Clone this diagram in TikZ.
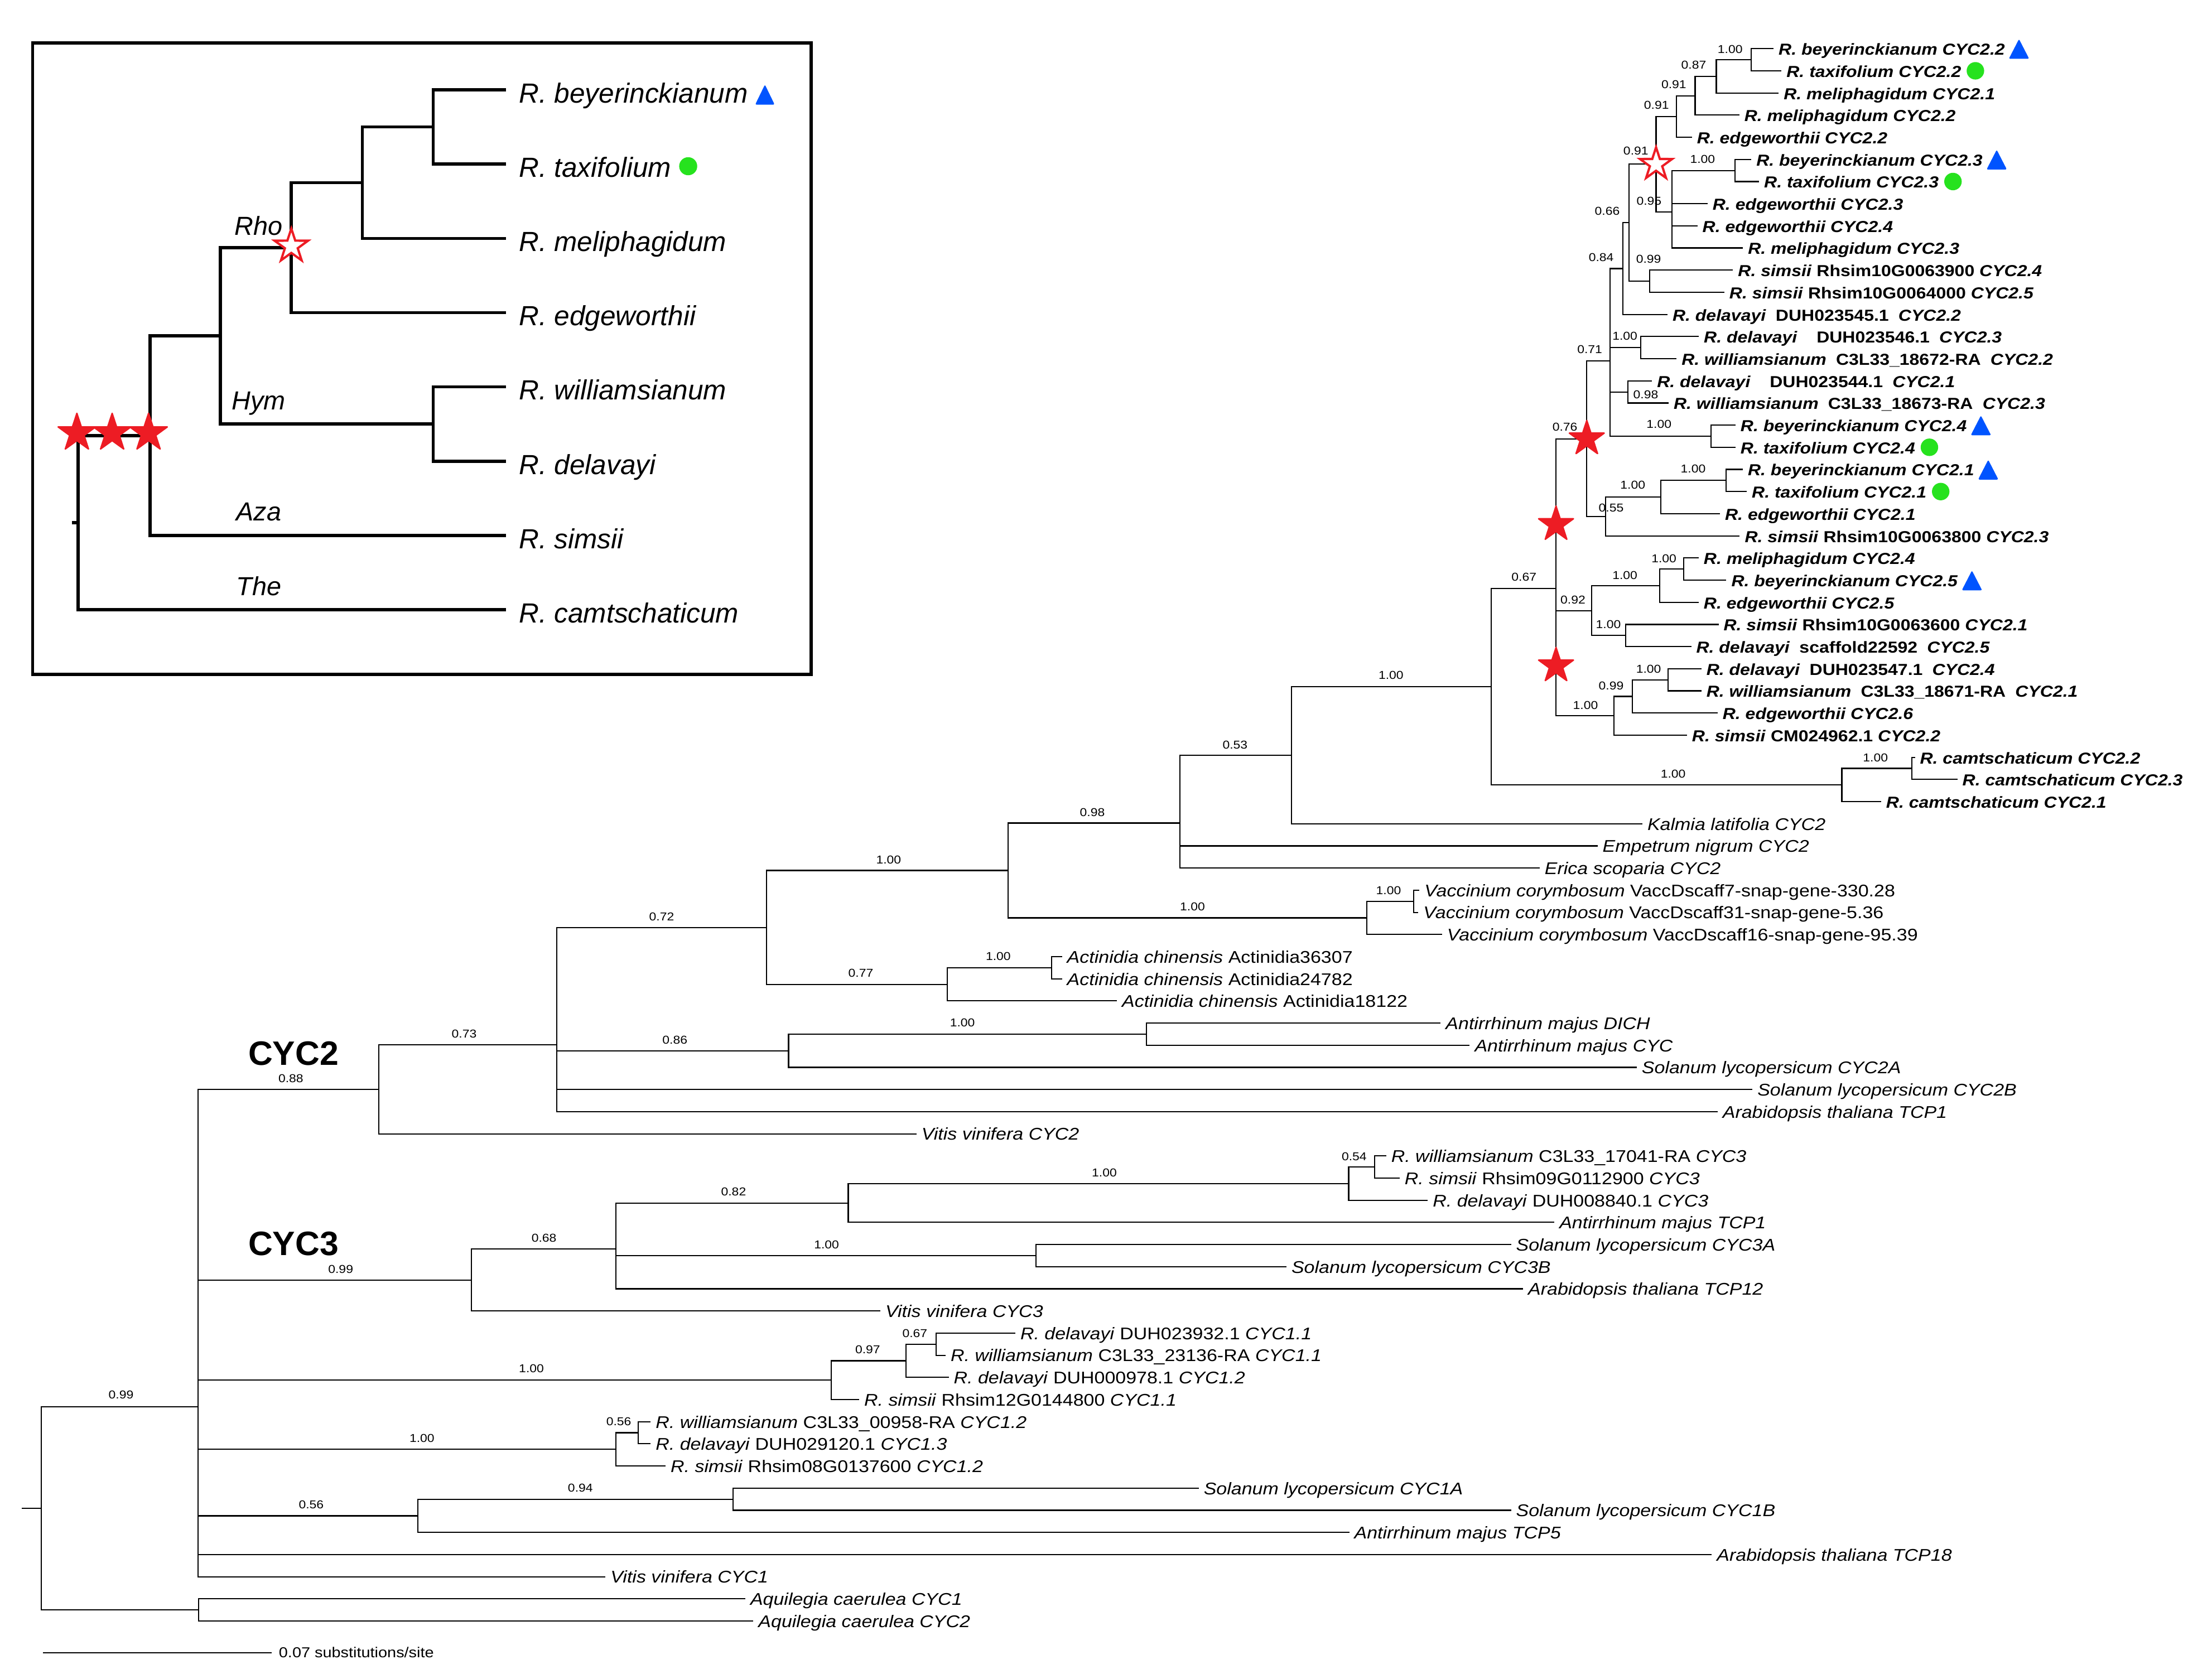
\documentclass[tikz,border=0pt]{standalone}
\usepackage{fontspec}
\setmainfont{Liberation Sans}
\newfontfamily\treefont[FakeStretch=1.12]{Liberation Sans}
\usetikzlibrary{calc}
\definecolor{dupred}{RGB}{237,28,36}
\definecolor{triblue}{RGB}{0,84,255}
\definecolor{dotgreen}{RGB}{38,226,30}
\newcommand{\gap}{\hspace{0.6em}}
\tikzset{
  branch/.style={line width=0.85pt, line cap=rect},
  ibranch/.style={line width=2.2pt, line cap=rect},
  tipb/.style={anchor=base west, inner sep=0pt, xshift=3.8pt, yshift=-4.5pt, font=\treefont\fontsize{11.3}{13}\selectfont\bfseries},
  tipn/.style={anchor=base west, inner sep=0pt, xshift=3.8pt, yshift=-4.5pt, font=\treefont\fontsize{12}{14}\selectfont},
  supp/.style={inner sep=0pt, font=\treefont\fontsize{8.1}{9}\selectfont},
  itip/.style={anchor=base west, inner sep=0pt, xshift=10pt, yshift=-9.2pt, font=\fontsize{19.6}{22}\selectfont\itshape},
  iclade/.style={anchor=base, inner sep=0pt, font=\fontsize{18.5}{21}\selectfont\itshape},
  cyclab/.style={inner sep=0pt, font=\fontsize{24}{28}\selectfont\bfseries},
  redstar/.pic={\fill[dupred, draw=dupred, line width=1pt, line join=round]
    (270:13) -- (306:5) -- (342:13) -- (18:5) -- (54:13) -- (90:5) -- (126:13) -- (162:5) -- (198:13) -- (234:5) -- cycle;},
  openstar/.pic={\filldraw[fill=white, draw=dupred, line width=1.6pt]
    (270:12) -- (306:4.6) -- (342:12) -- (18:4.6) -- (54:12) -- (90:4.6) -- (126:12) -- (162:4.6) -- (198:12) -- (234:4.6) -- cycle;},
  blutri/.pic={\fill[triblue, rounded corners=1pt] (2.6,7.2) -- (17,7.2) -- (9.8,-6.8) -- cycle;},
  grndot/.pic={\fill[dotgreen] (9.9,0) circle (6.2);}
}

\begin{document}
\begin{tikzpicture}[x=1pt, y=-1pt]
  \useasboundingbox (0,0) rectangle (1568,1190);

  %inset
  \draw[ibranch] (23.1,30.4) rectangle (575,478.1);
  \foreach \k/\lab in {1/R. beyerinckianum, 2/R. taxifolium, 3/R. meliphagidum, 4/R. edgeworthii,
    5/R. williamsianum, 6/R. delavayi, 7/R. simsii, 8/R. camtschaticum} {
    \coordinate (it\k) at (357.7, {63.7+52.65*(\k-1)});
    \node[itip] (il\k) at (it\k) {\lab};
  }
  \foreach \n/\x/\y in {ibt/307/90.03, ibtm/256.9/129.51, irho/206.5/175.58, ihym/307/300.63,
    irh/156.1/238.1, iaza/106.4/308.85, iroot/55.3/370.55, istub/52.3/370.55}
    \coordinate (\n) at (\x,\y);
  \foreach \p/\c in {ibt/it1, ibt/it2, ibtm/ibt, ibtm/it3, irho/ibtm, irho/it4, ihym/it5, ihym/it6,
    irh/irho, irh/ihym, iaza/irh, iaza/it7, iroot/iaza, iroot/it8}
    \draw[ibranch] (\p) |- (\c);
  \draw[ibranch] (istub) -- (iroot);
  \node[iclade] (rho) at (183.4,166.5) {Rho};
  \node[iclade] (hym) at (183.4,290.6) {Hym};
  \node[iclade] (aza) at (183.4,369.2) {Aza};
  \node[iclade] (the) at (183.4,422.2) {The};
  \foreach \x in {54.5, 79.5, 105.3}
    \pic[scale=1.077] at (\x,307) {redstar};
  \pic[scale=1.04] at (206.5,174.5) {openstar};
  \fill[triblue, rounded corners=1pt] ($(il1.east |- it1)+(4.9,10.5)$) -- ++(13.8,0) -- ++(-6.9,-14.2) -- cycle;
  \fill[dotgreen] ($(il2.east |- it2)+(11.9,1.5)$) circle (6.4);

  %tips, bold clade
  \foreach \i/\x/\lab in {
    0/1256.8/{\textit{R. beyerinckianum CYC2.2}},
    1/1262.4/{\textit{R. taxifolium CYC2.2}},
    2/1260.4/{\textit{R. meliphagidum CYC2.1}},
    3/1232.5/{\textit{R. meliphagidum CYC2.2}},
    4/1198.9/{\textit{R. edgeworthii CYC2.2}},
    5/1241/{\textit{R. beyerinckianum CYC2.3}},
    6/1246.5/{\textit{R. taxifolium CYC2.3}},
    7/1210/{\textit{R. edgeworthii CYC2.3}},
    8/1202.8/{\textit{R. edgeworthii CYC2.4}},
    9/1235.1/{\textit{R. meliphagidum CYC2.3}},
    10/1228/{\textit{R. simsii} Rhsim10G0063900 \textit{CYC2.4}},
    11/1221.9/{\textit{R. simsii} Rhsim10G0064000 \textit{CYC2.5}},
    12/1181.6/{\textit{R. delavayi}\gap DUH023545.1\gap\textit{CYC2.2}},
    13/1203.8/{\textit{R. delavayi}\gap\gap DUH023546.1\gap\textit{CYC2.3}},
    14/1188/{\textit{R. williamsianum}\gap C3L33\_18672-RA\gap\textit{CYC2.2}},
    15/1170.6/{\textit{R. delavayi}\gap\gap DUH023544.1\gap\textit{CYC2.1}},
    16/1182.4/{\textit{R. williamsianum}\gap C3L33\_18673-RA\gap\textit{CYC2.3}},
    17/1229.8/{\textit{R. beyerinckianum CYC2.4}},
    18/1229.8/{\textit{R. taxifolium CYC2.4}},
    19/1235/{\textit{R. beyerinckianum CYC2.1}},
    20/1237.8/{\textit{R. taxifolium CYC2.1}},
    21/1218.8/{\textit{R. edgeworthii CYC2.1}},
    22/1232.8/{\textit{R. simsii} Rhsim10G0063800 \textit{CYC2.3}},
    23/1203.7/{\textit{R. meliphagidum CYC2.4}},
    24/1223.3/{\textit{R. beyerinckianum CYC2.5}},
    25/1203.7/{\textit{R. edgeworthii CYC2.5}},
    26/1217.8/{\textit{R. simsii} Rhsim10G0063600 \textit{CYC2.1}},
    27/1198.4/{\textit{R. delavayi}\gap scaffold22592\gap\textit{CYC2.5}},
    28/1205.6/{\textit{R. delavayi}\gap DUH023547.1\gap\textit{CYC2.4}},
    29/1205.6/{\textit{R. williamsianum}\gap C3L33\_18671-RA\gap\textit{CYC2.1}},
    30/1217.1/{\textit{R. edgeworthii CYC2.6}},
    31/1195.4/{\textit{R. simsii} CM024962.1 \textit{CYC2.2}},
    32/1357/{\textit{R. camtschaticum CYC2.2}},
    33/1387.1/{\textit{R. camtschaticum CYC2.3}},
    34/1333/{\textit{R. camtschaticum CYC2.1}}} {
    \coordinate (t\i) at (\x,{34.5+15.7*\i});
    \node[tipb] (l\i) at (t\i) {\lab};
  }
  %tips, the rest
  \foreach \i/\x/\lab in {
    35/1163.8/{\textit{Kalmia latifolia CYC2}},
    36/1132/{\textit{Empetrum nigrum CYC2}},
    37/1091/{\textit{Erica scoparia CYC2}},
    38/1005.7/{\textit{Vaccinium corymbosum} VaccDscaff7-snap-gene-330.28},
    39/1005/{\textit{Vaccinium corymbosum} VaccDscaff31-snap-gene-5.36},
    40/1021.8/{\textit{Vaccinium corymbosum} VaccDscaff16-snap-gene-95.39},
    41/752.4/{\textit{Actinidia chinensis} Actinidia36307},
    42/752.4/{\textit{Actinidia chinensis} Actinidia24782},
    43/791.3/{\textit{Actinidia chinensis} Actinidia18122},
    44/1020.8/{\textit{Antirrhinum majus DICH}},
    45/1041.4/{\textit{Antirrhinum majus CYC}},
    46/1159.8/{\textit{Solanum lycopersicum CYC2A}},
    47/1241.8/{\textit{Solanum lycopersicum CYC2B}},
    48/1217.1/{\textit{Arabidopsis thaliana TCP1}},
    49/649.2/{\textit{Vitis vinifera CYC2}},
    50/982.2/{\textit{R. williamsianum} C3L33\_17041-RA \textit{CYC3}},
    51/991.7/{\textit{R. simsii} Rhsim09G0112900 \textit{CYC3}},
    52/1011.7/{\textit{R. delavayi} DUH008840.1 \textit{CYC3}},
    53/1101.4/{\textit{Antirrhinum majus TCP1}},
    54/1070.7/{\textit{Solanum lycopersicum CYC3A}},
    55/911.5/{\textit{Solanum lycopersicum CYC3B}},
    56/1079.2/{\textit{Arabidopsis thaliana TCP12}},
    57/623.6/{\textit{Vitis vinifera CYC3}},
    58/719.3/{\textit{R. delavayi} DUH023932.1 \textit{CYC1.1}},
    59/669.9/{\textit{R. williamsianum} C3L33\_23136-RA \textit{CYC1.1}},
    60/672.1/{\textit{R. delavayi} DUH000978.1 \textit{CYC1.2}},
    61/608.6/{\textit{R. simsii} Rhsim12G0144800 \textit{CYC1.1}},
    62/460.8/{\textit{R. williamsianum} C3L33\_00958-RA \textit{CYC1.2}},
    63/460.8/{\textit{R. delavayi} DUH029120.1 \textit{CYC1.3}},
    64/471.4/{\textit{R. simsii} Rhsim08G0137600 \textit{CYC1.2}},
    65/849.3/{\textit{Solanum lycopersicum CYC1A}},
    66/1070.7/{\textit{Solanum lycopersicum CYC1B}},
    67/956/{\textit{Antirrhinum majus TCP5}},
    68/1213/{\textit{Arabidopsis thaliana TCP18}},
    69/428.8/{\textit{Vitis vinifera CYC1}},
    70/527.9/{\textit{Aquilegia caerulea CYC1}},
    71/533.6/{\textit{Aquilegia caerulea CYC2}}} {
    \coordinate (t\i) at (\x,{34.5+15.7*\i});
    \node[tipn] (l\i) at (t\i) {\lab};
  }

  %internal nodes
  \foreach \n/\x/\y in {Nbt22/1241.3/42.35, N87/1216.6/54.13, N91a/1201.6/67.86, N91b/1188.4/82.58,
    Nbt23/1229.8/120.85, N95/1185.2/150.29, N91c/1173.9/116.43, N99/1169.3/199.35, N66/1154.8/157.89,
    N84/1150.4/190.4, N100a/1163.2/246.45, N98/1153.9/277.85, Nbt24/1213/309.25, N71/1141.2/255.99,
    Nbt21/1223.6/340.65, N100b/1177.3/352.43, N55/1138/366.16, N76/1124.8/311.08, Nmb/1193.6/403.45,
    N100c/1176.4/415.23, N100d/1152.5/450.55, N92/1128.3/432.89, N100f/1182.5/481.95, N99b/1157.1/493.73,
    N100e/1144.2/507.46, NX/1103/417.14, Nc23/1355.2/544.75, Ncamt/1305.6/556.53, NY/1056.9/486.83,
    N53/915.5/535.42, N98c/836.5/583.51, Nv12/1002.2/638.95, Nvac/968.8/650.73, N100L/714.6/617.12,
    N100m/745.4/686.05, N77/671.6/697.83, N72/543.4/657.48, N100g/812.5/733.15, N86/559/744.93,
    N73/394.8/740.73, N88/268.4/772.26, N54/974.5/827.35, N100k/956/839.13, N82/601.3/852.86,
    N100h/734.3/890.15, N68/436.7/885.57, N99c/334/907.48, N67/663.5/952.95, N97/642.1/964.73,
    N100i/589.3/978.46, N56b/452.3/1015.75, N100j/436.7/1027.53, N94/519.5/1062.85, N56c/296.3/1074.63,
    Nr2/140.5/997.18, Naq/140.8/1141.35, Nroot/29.2/1069.27, rstub/15.9/1069.27}
    \coordinate (\n) at (\x,\y);

  %branches
  \foreach \p/\c in {Nbt22/t0, Nbt22/t1, N87/Nbt22, N87/t2, N91a/N87, N91a/t3, N91b/N91a, N91b/t4,
    Nbt23/t5, Nbt23/t6, N95/Nbt23, N95/t7, N95/t8, N95/t9, N91c/N91b, N91c/N95, N99/t10, N99/t11,
    N66/N91c, N66/N99, N84/N66, N84/t12, N100a/t13, N100a/t14, N98/t15, N98/t16, Nbt24/t17, Nbt24/t18,
    N71/N84, N71/N100a, N71/N98, N71/Nbt24, Nbt21/t19, Nbt21/t20, N100b/Nbt21, N100b/t21, N55/N100b,
    N55/t22, N76/N71, N76/N55, Nmb/t23, Nmb/t24, N100c/Nmb, N100c/t25, N100d/t26, N100d/t27,
    N92/N100c, N92/N100d, N100f/t28, N100f/t29, N99b/N100f, N99b/t30, N100e/N99b, N100e/t31,
    NX/N76, NX/N92, NX/N100e, Nc23/t32, Nc23/t33, Ncamt/Nc23, Ncamt/t34, NY/NX, NY/Ncamt,
    N53/NY, N53/t35, N98c/N53, N98c/t36, N98c/t37, Nv12/t38, Nv12/t39, Nvac/Nv12, Nvac/t40,
    N100L/N98c, N100L/Nvac, N100m/t41, N100m/t42, N77/N100m, N77/t43, N72/N100L, N72/N77,
    N100g/t44, N100g/t45, N86/N100g, N86/t46, N73/N72, N73/N86, N73/t47, N73/t48, N88/N73, N88/t49,
    N54/t50, N54/t51, N100k/N54, N100k/t52, N82/N100k, N82/t53, N100h/t54, N100h/t55,
    N68/N82, N68/N100h, N68/t56, N99c/N68, N99c/t57, N67/t58, N67/t59, N97/N67, N97/t60,
    N100i/N97, N100i/t61, N56b/t62, N56b/t63, N100j/N56b, N100j/t64, N94/t65, N94/t66,
    N56c/N94, N56c/t67, Nr2/N88, Nr2/N99c, Nr2/N100i, Nr2/N100j, Nr2/N56c, Nr2/t68, Nr2/t69,
    Naq/t70, Naq/t71, Nroot/Nr2, Nroot/Naq}
    \draw[branch] (\p) |- (\c);
  \draw[branch] (rstub) -- (Nroot);

  %support values
  \foreach \x/\y/\v [count=\k] in {1226.4/35/1.00, 1200.6/45.9/0.87, 1186.5/60/0.91, 1174.2/74.5/0.91,
    1159.6/106.8/0.91, 1168.9/142.6/0.95, 1206.9/113/1.00, 1139.3/149.6/0.66, 1168.6/183.5/0.99,
    1135/182.6/0.84, 1151.8/238.3/1.00, 1166.6/279.6/0.98, 1176/300.8/1.00, 1126.9/247.8/0.71,
    1109.3/302.8/0.76, 1142.1/359.9/0.55, 1157.4/344/1.00, 1200.2/332.5/1.00, 1080.3/408.9/0.67,
    1115/425.1/0.92, 1179.5/396.1/1.00, 1151.8/408/1.00, 1140.1/442.6/1.00, 1123.9/499.9/1.00,
    1142.1/486.2/0.99, 1168.6/474.2/1.00, 1329.4/537.2/1.00, 1186/548.5/1.00, 986/478.6/1.00,
    875.5/528.1/0.53, 774.3/576.1/0.98, 629.9/609.6/1.00, 845.3/642.8/1.00, 984.3/631.3/1.00,
    469/649.8/0.72, 610.2/689.9/0.77, 707.6/678.1/1.00, 682.2/724.9/1.00, 478.4/737.3/0.86,
    329/732.8/0.73, 206.2/764.6/0.88, 959.9/819.8/0.54, 782.8/831.3/1.00, 520/845/0.82,
    585.9/882.3/1.00, 385.6/877.8/0.68, 241.5/899.8/0.99, 648.5/945.3/0.67, 615.1/956.8/0.97,
    376.7/970.4/1.00, 438.6/1007.7/0.56, 299.1/1019.6/1.00, 411.4/1055/0.94, 220.6/1066.7/0.56,
    85.8/988.8/0.99}
    \node[supp] (s\k) at (\x,\y) {\v};

  %duplication stars
  \pic at (N91c) {openstar};
  \pic at (N76) {redstar};
  \pic at (1103,371.8) {redstar};
  \pic at (1103,472) {redstar};

  %markers
  \foreach \i in {0,5,17,19,24}
    \pic at (l\i.east |- t\i) {blutri};
  \foreach \i in {1,6,18,20}
    \pic at (l\i.east |- t\i) {grndot};

  %clade names
  \node[cyclab] (cyc2) at (208,746.9) {CYC2};
  \node[cyclab] (cyc3) at (208,881.8) {CYC3};

  %scale bar
  \coordinate (sb0) at (31,1171.6);
  \coordinate (sb1) at (192.2,1171.6);
  \draw[branch] (sb0) -- (sb1);
  \node[anchor=base west, inner sep=0pt, xshift=5.3pt, yshift=-3.6pt, font=\treefont\fontsize{10.2}{12}\selectfont] (sblab) at (sb1) {0.07 substitutions/site};
\end{tikzpicture}
\end{document}
